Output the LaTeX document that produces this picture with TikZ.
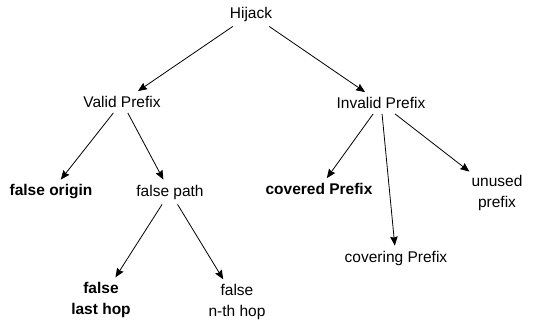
\documentclass[tikz,border=0pt]{standalone}
\usepackage{fontspec}
\setmainfont{Liberation Sans}
\usepackage{tikz}
\usetikzlibrary{arrows.meta}

\tikzset{
  lbl/.style={inner xsep=2pt, inner ysep=5pt, align=center, font=\fontsize{15.5}{20.5}\selectfont},
  arr/.style={line width=0.8pt, -{Stealth[length=9pt,width=7.5pt,inset=1pt]}}
}

\begin{document}
\begin{tikzpicture}[x=1pt,y=-1pt]
\useasboundingbox (0,0) rectangle (555,324);
% tree of hijack types
\node[lbl] (hijack) at (251,14) {Hijack};
\node[lbl] (valid) at (122,102) {Valid Prefix};
\node[lbl] (invalid) at (381,103) {Invalid Prefix};
\node[lbl] (origin) at (51,192) {\textbf{false origin}};
\node[lbl] (path) at (170,192) {false path};
\node[lbl] (covered) at (319,189) {\textbf{covered Prefix}};
\node[lbl] (covering) at (396,258) {covering Prefix};
\node[lbl] (unused) at (497,193) {unused\\prefix};
\node[lbl] (lasthop) at (101,300) {\textbf{false}\\\textbf{last hop}};
\node[lbl] (nthhop) at (237,302) {false\\n-th hop};

\draw[arr] (hijack) -- (valid);
\draw[arr] (hijack) -- (invalid);
\draw[arr] (valid) -- (origin);
\draw[arr] (valid) -- (path);
\draw[arr] (invalid) -- (covered);
\draw[arr] (invalid) -- (covering);
\draw[arr] (invalid) -- (unused);
\draw[arr] (path) -- (lasthop);
\draw[arr] (path) -- (nthhop);
\end{tikzpicture}
\end{document}
